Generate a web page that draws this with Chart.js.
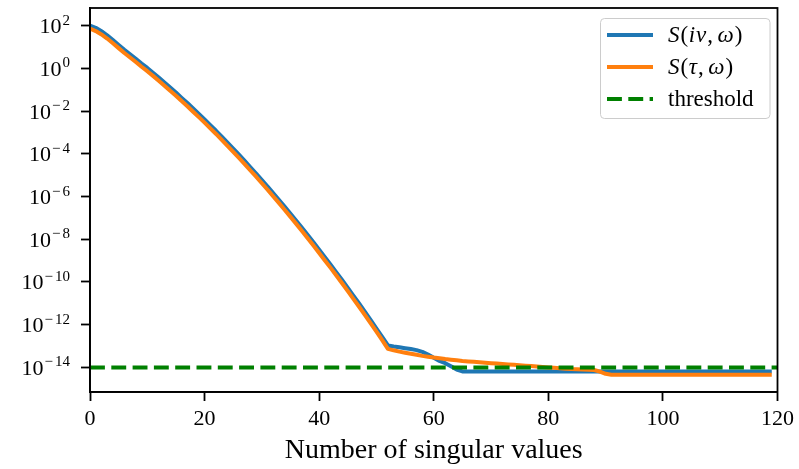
<!DOCTYPE html>
<html>
<head>
<meta charset="utf-8">
<script src="https://cdn.jsdelivr.net/npm/chart.js@4.4.1/dist/chart.umd.min.js"></script>
<style>
html, body { margin: 0; padding: 0; background: #fff; }
#wrap { width: 799px; height: 469px; position: relative; }
</style>
</head>
<body>
<div id="wrap"><canvas id="c" width="799" height="469"></canvas></div>
<script>
// Singular value index (number of singular values kept)
const singularIndex = [...Array(120).keys()];

// Singular values of the Matsubara-frequency kernel S(iν, ω)
const sFreq = [
  1.00e2, 7.94e1, 5.50e1, 3.55e1, 2.14e1, 1.26e1, 7.41, 4.57, 2.82, 1.70,
  1.05, 6.31e-1, 3.72e-1, 2.19e-1, 1.26e-1, 7.41e-2, 4.17e-2, 2.40e-2, 1.32e-2, 7.41e-3,
  4.07e-3, 2.19e-3, 1.20e-3, 6.31e-4, 3.31e-4, 1.74e-4, 9.12e-5, 4.68e-5, 2.34e-5, 1.20e-5,
  5.89e-6, 2.95e-6, 1.41e-6, 6.92e-7, 3.31e-7, 1.58e-7, 7.41e-8, 3.47e-8, 1.58e-8, 7.24e-9,
  3.24e-9, 1.45e-9, 6.46e-10, 2.82e-10, 1.23e-10, 5.25e-11, 2.24e-11, 9.55e-12, 3.98e-12, 1.62e-12,
  6.61e-13, 2.69e-13, 1.07e-13, 9.55e-14, 8.71e-14, 7.94e-14, 7.24e-14, 6.46e-14, 5.37e-14, 3.98e-14,
  2.82e-14, 2.00e-14, 1.58e-14, 1.12e-14, 7.94e-15, 6.46e-15, 6.46e-15, 6.46e-15, 6.46e-15, 6.46e-15,
  6.46e-15, 6.46e-15, 6.46e-15, 6.46e-15, 6.46e-15, 6.46e-15, 6.46e-15, 6.46e-15, 6.46e-15, 6.46e-15,
  6.46e-15, 6.46e-15, 6.46e-15, 6.46e-15, 6.46e-15, 6.46e-15, 6.46e-15, 6.46e-15, 6.46e-15, 6.46e-15,
  6.46e-15, 6.46e-15, 6.46e-15, 6.46e-15, 6.46e-15, 6.46e-15, 6.46e-15, 6.46e-15, 6.46e-15, 6.46e-15,
  6.46e-15, 6.46e-15, 6.46e-15, 6.46e-15, 6.46e-15, 6.46e-15, 6.46e-15, 6.46e-15, 6.46e-15, 6.46e-15,
  6.46e-15, 6.46e-15, 6.46e-15, 6.46e-15, 6.46e-15, 6.46e-15, 6.46e-15, 6.46e-15, 6.46e-15, 6.46e-15
];

// Singular values of the imaginary-time kernel S(τ, ω)
const sTime = [
  7.24e1, 5.62e1, 3.89e1, 2.51e1, 1.51e1, 8.91, 5.25, 3.24, 2.00, 1.20,
  7.41e-1, 4.47e-1, 2.63e-1, 1.55e-1, 8.91e-2, 5.25e-2, 2.95e-2, 1.70e-2, 9.33e-3, 5.25e-3,
  2.88e-3, 1.55e-3, 8.51e-4, 4.47e-4, 2.34e-4, 1.23e-4, 6.46e-5, 3.31e-5, 1.66e-5, 8.51e-6,
  4.17e-6, 2.09e-6, 1.00e-6, 4.90e-7, 2.34e-7, 1.12e-7, 5.25e-8, 2.45e-8, 1.12e-8, 5.13e-9,
  2.29e-9, 1.02e-9, 4.57e-10, 2.00e-10, 8.71e-11, 3.72e-11, 1.58e-11, 6.76e-12, 2.82e-12, 1.15e-12,
  4.68e-13, 1.91e-13, 7.41e-14, 6.31e-14, 5.50e-14, 4.90e-14, 4.37e-14, 3.89e-14, 3.47e-14, 3.16e-14,
  2.88e-14, 2.69e-14, 2.45e-14, 2.29e-14, 2.14e-14, 2.00e-14, 1.91e-14, 1.82e-14, 1.74e-14, 1.66e-14,
  1.58e-14, 1.51e-14, 1.45e-14, 1.38e-14, 1.32e-14, 1.26e-14, 1.20e-14, 1.15e-14, 1.10e-14, 1.05e-14,
  1.00e-14, 9.55e-15, 9.12e-15, 8.71e-15, 8.32e-15, 8.13e-15, 7.94e-15, 7.76e-15, 7.59e-15, 6.31e-15,
  5.01e-15, 4.57e-15, 4.57e-15, 4.57e-15, 4.57e-15, 4.57e-15, 4.57e-15, 4.57e-15, 4.57e-15, 4.57e-15,
  4.57e-15, 4.57e-15, 4.57e-15, 4.57e-15, 4.57e-15, 4.57e-15, 4.57e-15, 4.57e-15, 4.57e-15, 4.57e-15,
  4.57e-15, 4.57e-15, 4.57e-15, 4.57e-15, 4.57e-15, 4.57e-15, 4.57e-15, 4.57e-15, 4.57e-15, 4.57e-15
];

// Truncation threshold
const thresholdLevel = 1e-14;
const thresholdSpan = [0, 120];

// Axis ticks
const xTickValues = [0, 20, 40, 60, 80, 100, 120];
const yTickExponents = [-14, -12, -10, -8, -6, -4, -2, 0, 2];
const yRange = [7.06e-16, 673];

const serif = '"Liberation Serif", "Times New Roman", serif';

// Draws the box frame, power-of-ten tick labels and the legend
const decorations = {
  id: 'decorations',
  afterDatasetsDraw(chart) {
    const { ctx, chartArea: a } = chart;
    ctx.save();
    ctx.strokeStyle = '#000';
    ctx.lineWidth = 1.8;
    ctx.strokeRect(a.left, a.top, a.right - a.left, a.bottom - a.top);
    ctx.restore();
  },
  afterDraw(chart) {
    const { ctx } = chart;
    const ys = chart.scales.y;
    ctx.save();
    ctx.fillStyle = '#000';
    ctx.textBaseline = 'alphabetic';
    ctx.textAlign = 'left';
    const right = 70;
    for (const e of yTickExponents) {
      const py = ys.getPixelForValue(Math.pow(10, e));
      ctx.font = `15px ${serif}`;
      const digits = String(Math.abs(e));
      const dW = ctx.measureText(digits).width;
      const mW = e < 0 ? ctx.measureText('\u2212').width + 2 : 0;
      const expX = right - dW - mW;
      const expBase = py - 1;
      if (e < 0) ctx.fillText('\u2212', expX, expBase);
      ctx.fillText(digits, expX + mW, expBase);
      ctx.font = `22px ${serif}`;
      const bW = ctx.measureText('10').width;
      ctx.fillText('10', expX - bW - 1, py + 7.5);
    }

    // legend
    const box = { x: 600.5, y: 18.5, w: 169.5, h: 100, r: 4 };
    ctx.beginPath();
    ctx.roundRect(box.x, box.y, box.w, box.h, box.r);
    ctx.fillStyle = 'rgba(255,255,255,0.8)';
    ctx.fill();
    ctx.strokeStyle = '#cccccc';
    ctx.lineWidth = 1;
    ctx.stroke();

    const rows = [35, 67, 99];
    chart.data.datasets.forEach((ds, i) => {
      const ry = rows[i];
      ctx.save();
      ctx.beginPath();
      ctx.strokeStyle = ds.borderColor;
      ctx.lineWidth = ds.borderWidth;
      ctx.lineCap = 'butt';
      ctx.setLineDash(ds.borderDash || []);
      ctx.moveTo(607, ry);
      ctx.lineTo(653, ry);
      ctx.stroke();
      ctx.restore();

      ctx.fillStyle = '#000';
      let cx = 668;
      const base = ry + 7;
      if (ds.mathLabel) {
        for (const ch of ds.label) {
          if (ch === ' ') { cx += 4; continue; }
          const italic = /\p{L}/u.test(ch);
          ctx.font = `${italic ? 'italic ' : ''}23px ${serif}`;
          ctx.fillText(ch, cx, base);
          cx += ctx.measureText(ch).width + (italic ? 1 : 0.5);
        }
      } else {
        ctx.font = `23px ${serif}`;
        ctx.fillText(ds.label, cx, base);
      }
    });
    ctx.restore();
  }
};

const tickStyle = {
  drawOnChartArea: false, drawTicks: true, tickLength: 9,
  tickColor: '#000', tickWidth: 1.8
};

new Chart(document.getElementById('c'), {
  type: 'line',
  data: {
    datasets: [
      {
        label: 'S(iν, ω)', mathLabel: true,
        data: singularIndex.map((n, i) => ({ x: n, y: sFreq[i] })),
        borderColor: '#1f77b4', borderWidth: 4, order: 3
      },
      {
        label: 'S(τ, ω)', mathLabel: true,
        data: singularIndex.map((n, i) => ({ x: n, y: sTime[i] })),
        borderColor: '#ff7f0e', borderWidth: 4, order: 2
      },
      {
        label: 'threshold',
        data: thresholdSpan.map(x => ({ x, y: thresholdLevel })),
        borderColor: '#008000', borderWidth: 4, borderDash: [14.9, 6.4], order: 1
      }
    ]
  },
  options: {
    responsive: false,
    animation: false,
    devicePixelRatio: 1,
    layout: { padding: { top: 8, right: 19, left: 0, bottom: 0 } },
    elements: {
      point: { radius: 0 },
      line: { tension: 0, borderCapStyle: 'butt', borderJoinStyle: 'round', fill: false }
    },
    plugins: { legend: { display: false }, tooltip: { enabled: false } },
    scales: {
      x: {
        type: 'linear', min: 0, max: 120,
        afterBuildTicks: s => { s.ticks = xTickValues.map(v => ({ value: v })); },
        afterFit: s => { s.height = 77; },
        grid: tickStyle,
        border: { display: true, color: '#000', width: 1.8 },
        ticks: { color: '#000', font: { family: serif, size: 22 }, padding: 5, maxRotation: 0, autoSkip: false },
        title: {
          display: true, text: 'Number of singular values', color: '#000',
          font: { family: serif, size: 28 }, padding: { top: 0, bottom: 2 }
        }
      },
      y: {
        type: 'logarithmic', min: yRange[0], max: yRange[1],
        afterBuildTicks: s => { s.ticks = yTickExponents.map(e => ({ value: Math.pow(10, e) })); },
        afterFit: s => { s.width = 90; },
        grid: tickStyle,
        border: { display: true, color: '#000', width: 1.8 },
        ticks: { display: false }
      }
    }
  },
  plugins: [decorations]
});
</script>
</body>
</html>
